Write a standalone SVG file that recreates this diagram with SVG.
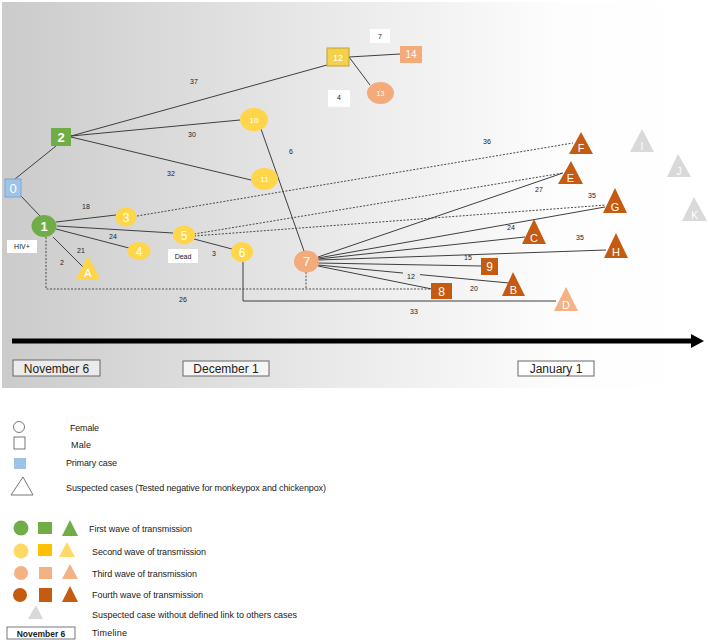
<svg xmlns="http://www.w3.org/2000/svg" width="708" height="643" viewBox="0 0 708 643">
<defs>
<linearGradient id="bg" x1="0" y1="0" x2="1" y2="0">
<stop offset="0" stop-color="#cbcbcb"/>
<stop offset="0.45" stop-color="#e8e8e8"/>
<stop offset="0.8" stop-color="#fdfdfd"/>
<stop offset="1" stop-color="#ffffff"/>
</linearGradient>
<style>
text{font-family:"Liberation Sans",Arial,sans-serif}
.lbl{fill:#fff;text-anchor:middle}
.el{font-size:7px;fill:#222;text-anchor:middle}
.ln{stroke:#3f3f3f;stroke-width:1;fill:none}
.dt{stroke:#4a4a4a;stroke-width:1;stroke-dasharray:2 1.5;fill:none}
.g{fill:#70ad47}
.y{fill:#ffd54a}
.s{fill:#f4ab7c}
.o{fill:#c55a11}
.gr{fill:#d9d9d9}
.lg{font-size:9px;fill:#222}
.tl{font-size:12px;fill:#222;text-anchor:middle}
</style>
</defs>
<rect x="0" y="0" width="708" height="643" fill="#ffffff"/>
<rect x="2" y="2" width="698" height="386" fill="url(#bg)"/>

<g id="connectors">
<line class="ln" x1="20" y1="195" x2="40" y2="216"/>
<line class="ln" x1="15" y1="179" x2="56" y2="146"/>
<line class="ln" x1="71" y1="136" x2="327" y2="65"/>
<line class="ln" x1="71" y1="136" x2="240" y2="120"/>
<line class="ln" x1="71" y1="137" x2="251" y2="180"/>
<line class="ln" x1="261" y1="129" x2="304" y2="251"/>
<line class="ln" x1="349" y1="57" x2="400" y2="54"/>
<line class="ln" x1="349" y1="57" x2="370" y2="85"/>
<line class="ln" x1="56" y1="222" x2="116" y2="215"/>
<line class="ln" x1="57" y1="226" x2="173" y2="233"/>
<line class="ln" x1="56" y1="229" x2="129" y2="248"/>
<line class="ln" x1="53" y1="237" x2="83" y2="267"/>
<line class="ln" x1="194" y1="239" x2="232" y2="249"/>
<polyline class="dt" points="46,237 46,289 431,289"/>
<line class="dt" x1="306" y1="272" x2="306" y2="289"/>
<polyline class="ln" points="243,262 243,301 556,301" stroke="#555"/>
<line class="dt" x1="137" y1="216" x2="573" y2="143"/>
<line class="dt" x1="194" y1="234" x2="563" y2="173"/>
<line class="dt" x1="194" y1="236" x2="606" y2="205"/>
<line class="ln" x1="318" y1="257" x2="563" y2="173"/>
<line class="ln" x1="318" y1="258" x2="605" y2="207"/>
<line class="ln" x1="318" y1="259" x2="525" y2="237"/>
<line class="ln" x1="318" y1="260" x2="606" y2="250"/>
<line class="ln" x1="318" y1="263" x2="481" y2="266"/>
<line class="ln" x1="318" y1="265" x2="509" y2="283"/>
<line class="ln" x1="318" y1="266" x2="432" y2="289"/>
</g>

<g id="edge-labels">
<text class="el" x="194" y="84">37</text>
<text class="el" x="192" y="137">30</text>
<text class="el" x="171" y="176">32</text>
<text class="el" x="291" y="154">6</text>
<rect x="370" y="29" width="20" height="14" fill="#fff"/>
<text class="el" x="380" y="39">7</text>
<rect x="328" y="90" width="22" height="17" fill="#fff"/>
<text class="el" x="339" y="100">4</text>
<text class="el" x="86" y="209">18</text>
<text class="el" x="113" y="239">24</text>
<text class="el" x="81" y="253">21</text>
<text class="el" x="62" y="265">2</text>
<text class="el" x="214" y="256">3</text>
<text class="el" x="183" y="302">26</text>
<text class="el" x="414" y="314">33</text>
<rect x="403" y="272" width="17" height="10" fill="#ececec"/>
<text class="el" x="411" y="279">12</text>
<text class="el" x="468" y="260">15</text>
<text class="el" x="474" y="291">20</text>
<text class="el" x="511" y="230">24</text>
<text class="el" x="580" y="240">35</text>
<text class="el" x="592" y="198">35</text>
<text class="el" x="539" y="192">27</text>
<text class="el" x="487" y="144">36</text>
<rect x="7" y="240" width="30" height="13" fill="#fff"/>
<text class="el" x="22" y="249" font-size="6">HIV+</text>
<rect x="168" y="249" width="30" height="14" fill="#fff"/>
<text class="el" x="183" y="258.5" font-size="6">Dead</text>
</g>

<g id="n0"><rect x="5" y="179" width="16" height="18" fill="#9dc3e6" stroke="#7ea6d2" stroke-width="1"/><text class="lbl" x="13" y="193" font-size="13">0</text></g>
<g id="n2"><rect x="51" y="128" width="20" height="18" class="g"/><text class="lbl" x="61" y="142" font-size="13" font-weight="bold">2</text></g>
<g id="n1"><ellipse cx="44" cy="226" rx="12.5" ry="11" class="g"/><text class="lbl" x="44" y="231" font-size="13" font-weight="bold">1</text></g>
<g id="n3"><ellipse cx="126" cy="217" rx="10.5" ry="9.5" class="y"/><text class="lbl" x="126" y="221.5" font-size="12">3</text></g>
<g id="n4"><ellipse cx="139" cy="251" rx="11.5" ry="9" class="y"/><text class="lbl" x="139" y="255.5" font-size="12">4</text></g>
<g id="n5"><ellipse cx="184" cy="235" rx="11" ry="9.5" class="y"/><text class="lbl" x="184" y="239.5" font-size="12">5</text></g>
<g id="n6"><ellipse cx="242" cy="252" rx="11" ry="10" class="y"/><text class="lbl" x="242" y="256.5" font-size="12">6</text></g>
<g id="n10"><ellipse cx="254" cy="119.5" rx="14" ry="11.5" class="y"/><text class="lbl" x="254" y="122.5" font-size="8">10</text></g>
<g id="n11"><ellipse cx="264.5" cy="179" rx="13.5" ry="11" class="y"/><text class="lbl" x="264.5" y="182" font-size="8">11</text></g>
<g id="n12"><rect x="327" y="48" width="22" height="18" fill="#f5d04b" stroke="#b8a43e" stroke-width="1"/><text class="lbl" x="338" y="60.5" font-size="9">12</text></g>
<g id="n13"><ellipse cx="380.5" cy="93" rx="13.5" ry="11" class="s"/><text class="lbl" x="380.5" y="95.5" font-size="7">13</text></g>
<g id="n14"><rect x="400" y="46" width="22" height="17" class="s"/><text class="lbl" x="411" y="58" font-size="10">14</text></g>
<g id="n7"><ellipse cx="306.5" cy="261.5" rx="12.5" ry="11" class="s"/><text class="lbl" x="306.5" y="266" font-size="13">7</text></g>
<g id="n8"><rect x="431" y="283" width="21" height="16" class="o"/><text class="lbl" x="441.5" y="295.5" font-size="12">8</text></g>
<g id="n9"><rect x="481" y="258" width="17" height="17" class="o"/><text class="lbl" x="489.5" y="271" font-size="12">9</text></g>
<g id="nA"><polygon points="88,256 76,279 100,279" class="y"/><text class="lbl" x="88" y="277" font-size="11">A</text></g>
<g id="nB"><polygon points="513,272 502,296 525,296" class="o"/><text class="lbl" x="513.5" y="294" font-size="11">B</text></g>
<g id="nC"><polygon points="534,219 522,244 546,244" class="o"/><text class="lbl" x="534" y="242" font-size="11">C</text></g>
<g id="nD"><polygon points="566,287 554,311 578,311" fill="#f4b183"/><text class="lbl" x="566" y="309" font-size="11">D</text></g>
<g id="nE"><polygon points="571,161 558,184 583,184" class="o"/><text class="lbl" x="570.5" y="182" font-size="11">E</text></g>
<g id="nF"><polygon points="581,132 569,154 593,154" class="o"/><text class="lbl" x="581" y="152" font-size="11">F</text></g>
<g id="nG"><polygon points="615,188 603,213 627,213" class="o"/><text class="lbl" x="615" y="211" font-size="11">G</text></g>
<g id="nH"><polygon points="616,233 604,258 628,258" class="o"/><text class="lbl" x="616" y="256" font-size="11">H</text></g>
<g id="nI"><polygon points="642,129 630,152 654,152" class="gr"/><text class="lbl" x="642" y="150" font-size="10">I</text></g>
<g id="nJ"><polygon points="678,154 667,177 691,177" class="gr"/><text class="lbl" x="679" y="175" font-size="10">J</text></g>
<g id="nK"><polygon points="694,197 682,221 707,221" class="gr"/><text class="lbl" x="694.5" y="219" font-size="10">K</text></g>

<g id="timeline">
<line x1="12" y1="341" x2="692" y2="341" stroke="#000" stroke-width="5"/>
<polygon points="691,334 704,341 691,348" fill="#000"/>
<rect x="13" y="360" width="87" height="16" fill="#ebebeb" stroke="#666" stroke-width="1"/>
<text class="tl" x="56.5" y="372.5">November 6</text>
<rect x="183" y="361" width="86" height="15" fill="#f5f5f5" stroke="#666" stroke-width="1"/>
<text class="tl" x="226" y="373">December 1</text>
<rect x="518" y="361" width="76" height="15" fill="#ffffff" stroke="#666" stroke-width="1"/>
<text class="tl" x="556" y="373">January 1</text>
</g>

<g id="legend">
<circle cx="19" cy="427" r="5.5" fill="#fff" stroke="#555" stroke-width="0.8"/>
<text class="lg" x="70" y="431" textLength="29">Female</text>
<rect x="14" y="437" width="11" height="12" fill="#fff" stroke="#555" stroke-width="0.8"/>
<text class="lg" x="71" y="448" textLength="20">Male</text>
<rect x="14" y="458" width="12" height="11" fill="#9dc3e6"/>
<text class="lg" x="66" y="466" textLength="51">Primary case</text>
<polygon points="23,477 11,495 33,495" fill="#fff" stroke="#555" stroke-width="0.8"/>
<text class="lg" x="66" y="491" textLength="260">Suspected cases (Tested negative for monkeypox and chickenpox)</text>

<circle cx="21" cy="528" r="7.5" fill="#70ad47"/>
<rect x="38" y="522" width="14" height="12" fill="#70ad47"/>
<polygon points="70,520 62,536 78,536" fill="#70ad47"/>
<text class="lg" x="89" y="532" textLength="103">First wave of transmission</text>

<circle cx="21" cy="551" r="7.5" fill="#ffd966"/>
<rect x="38" y="544" width="14" height="12" fill="#ffc000"/>
<polygon points="67,542 59,557 75,557" fill="#ffd966"/>
<text class="lg" x="92" y="555" textLength="114">Second wave of transmission</text>

<circle cx="21" cy="573" r="7" fill="#f4b183"/>
<rect x="39" y="567" width="13" height="12" fill="#f4b183"/>
<polygon points="70,564 62,579 78,579" fill="#f4b183"/>
<text class="lg" x="92" y="577" textLength="105">Third wave of transmission</text>

<circle cx="20" cy="595" r="7" fill="#c55a11"/>
<rect x="39" y="588" width="13" height="14" fill="#c55a11"/>
<polygon points="70,586 62,602 78,602" fill="#c55a11"/>
<text class="lg" x="92" y="598" textLength="111">Fourth wave of transmission</text>

<polygon points="36,605 28,619 43,619" fill="#d9d9d9"/>
<text class="lg" x="92" y="618" textLength="205">Suspected case without defined link to others cases</text>

<rect x="7" y="627" width="68" height="12" fill="#fff" stroke="#555" stroke-width="0.8"/>
<text x="41" y="636.5" font-size="8.5" font-weight="bold" fill="#222" text-anchor="middle">November 6</text>
<text class="lg" x="92" y="636" textLength="35">Timeline</text>
</g>
</svg>
